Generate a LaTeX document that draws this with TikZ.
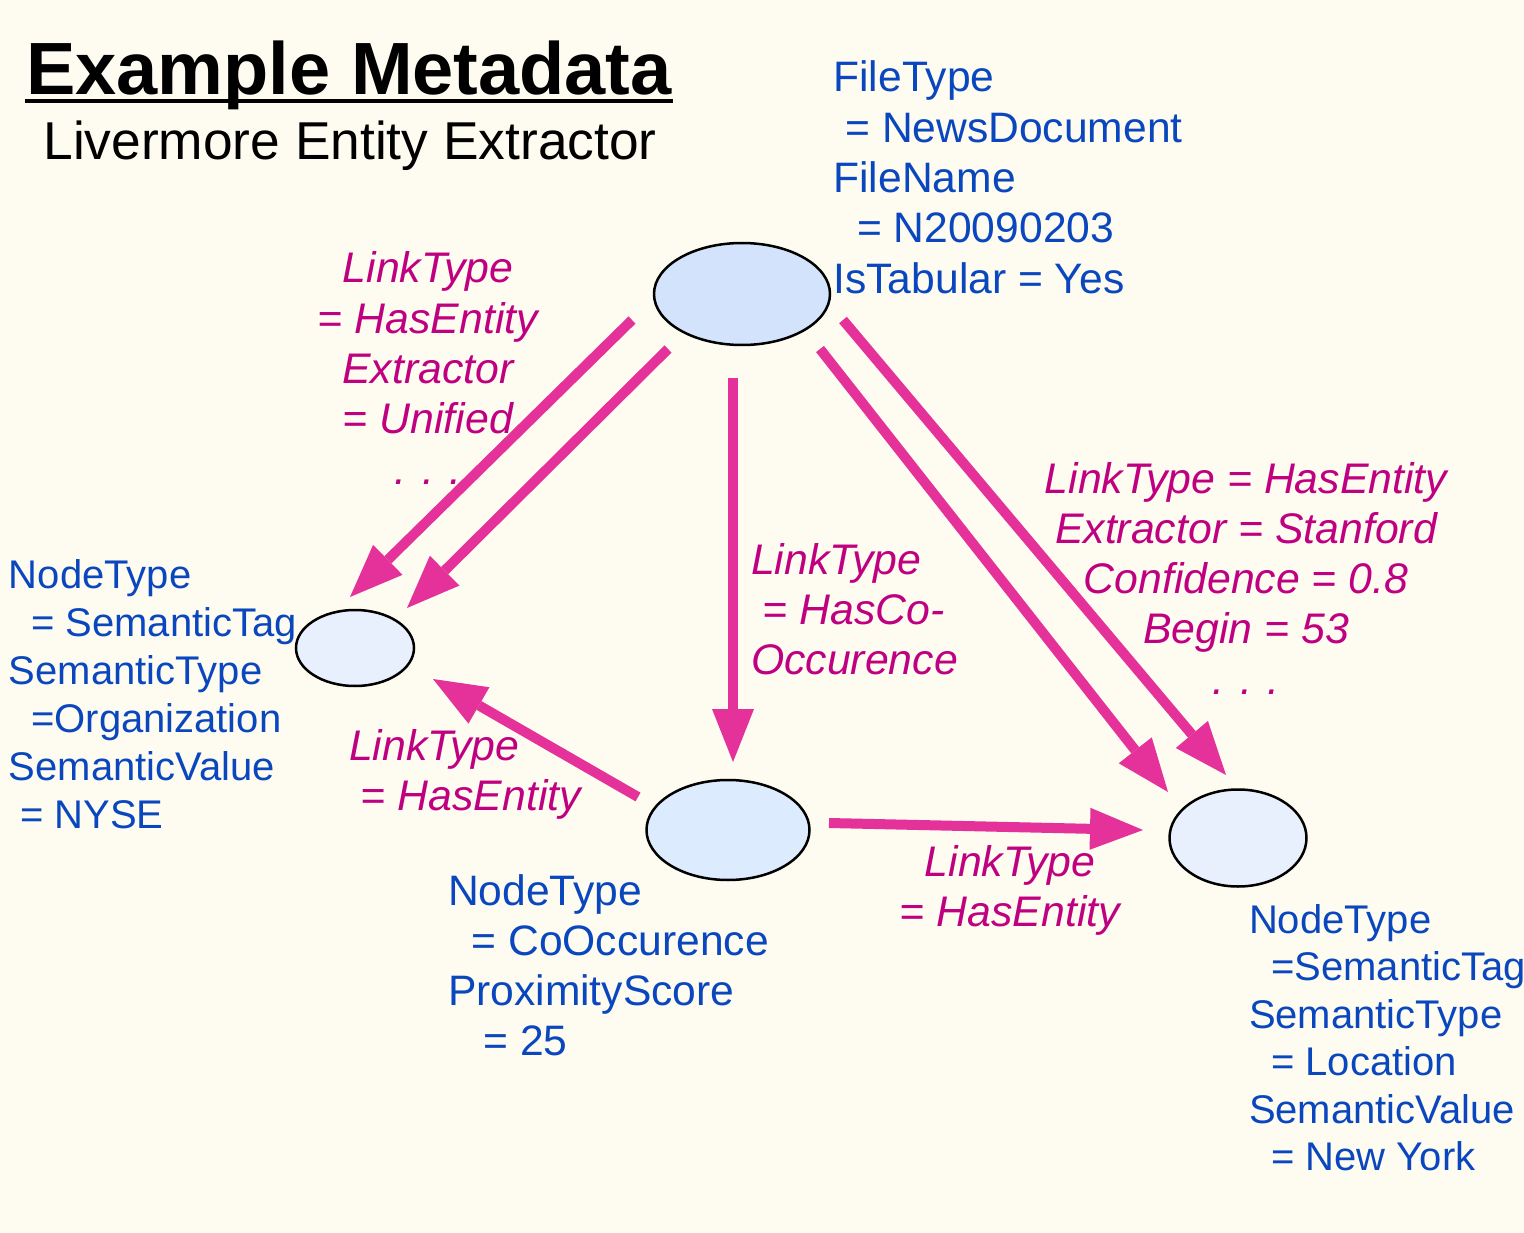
\documentclass[tikz,border=0pt]{standalone}
\usepackage{fontspec}
\setmainfont{Liberation Sans}
\usetikzlibrary{arrows.meta,shapes.geometric}
\definecolor{bgcol}{HTML}{FEFBF0}
\definecolor{infoblue}{HTML}{0A47BF}
\definecolor{linkmag}{HTML}{BF0080}
\definecolor{arrowpink}{HTML}{E5319A}
\definecolor{topfill}{HTML}{D3E3FB}
\definecolor{entfill}{HTML}{E8F0FD}
\definecolor{cofill}{HTML}{DDEBFE}
\newcommand\leftlines[1]{\vtop{\halign{##\hfil\cr#1\crcr}}}
\newcommand\centerlines[1]{\vtop{\halign{\hfil##\hfil\cr#1\crcr}}}
\begin{document}
\begin{tikzpicture}[x=1pt,y=-1pt,
  ent/.style={ellipse, draw=black, line width=2.5pt, inner sep=0pt},
  txt/.style={inner sep=0pt, outer sep=0pt},
  info/.style={txt, text=infoblue, font=\fontsize{42.6}{50.3}\selectfont},
  infosm/.style={txt, text=infoblue, font=\fontsize{40}{48}\selectfont},
  infosmr/.style={txt, text=infoblue, font=\fontsize{40}{47.5}\selectfont},
  linklab/.style={txt, text=linkmag, font=\fontsize{42.8}{50.3}\selectfont\itshape},
  link/.style={draw=arrowpink, line width=10pt, -{Triangle[length=53pt, width=42pt, line width=0pt]}}]
\fill[bgcol] (0,0) rectangle (1524,1233);
\useasboundingbox (0,0) rectangle (1524,1233);

% title
\node[txt, anchor=base, font=\fontsize{74}{80}\selectfont\bfseries] (title) at (349,95) {Example Metadata};
\coordinate (ulA) at (25,101);
\coordinate (ulB) at (673,101);
\draw[line width=4pt] (ulA) -- (ulB);
\node[txt, anchor=base, font=\fontsize{53.3}{60}\selectfont] (subtitle) at (350,160) {Livermore Entity Extractor};

% entity ellipses
\node[ent, fill=topfill, minimum width=176pt, minimum height=102pt] (doc) at (742,294) {};
\node[ent, fill=entfill, minimum width=118pt, minimum height=76pt] (org) at (355,648) {};
\node[ent, fill=cofill, minimum width=163pt, minimum height=100pt] (co) at (728,830) {};
\node[ent, fill=entfill, minimum width=137pt, minimum height=97pt] (loc) at (1238,838) {};

% attribute texts
\node[info, anchor=base west] (docinfo) at (833.5,92)
  {\leftlines{FileType\cr\ = NewsDocument\cr FileName\cr\ \ = N20090203\cr IsTabular = Yes}};
\node[infosm, anchor=base west] (orginfo) at (9,588)
  {\leftlines{NodeType\cr\ \ = SemanticTag\cr SemanticType\cr\ \ =Organization\cr SemanticValue\cr\ = NYSE}};
\node[info, anchor=base west] (coinfo) at (448,905)
  {\leftlines{NodeType\cr\ \ = CoOccurence\cr ProximityScore\cr\ \ \ = 25}};
\node[infosmr, anchor=base west] (locinfo) at (1249,933)
  {\leftlines{NodeType\cr\ \ =SemanticTag\cr SemanticType\cr\ \ = Location\cr SemanticValue\cr\ \ = New York}};

% link labels
\node[linklab, anchor=base] (lab1) at (428,283)
  {\centerlines{LinkType\cr = HasEntity\cr Extractor\cr = Unified\cr . . .}};
\node[linklab, anchor=base] (lab2) at (1246,493)
  {\centerlines{LinkType = HasEntity\cr Extractor = Stanford\cr Confidence = 0.8\cr Begin = 53\cr . . .}};
\node[linklab, anchor=base west] (lab3) at (751,574)
  {\leftlines{LinkType\cr\ = HasCo-\cr Occurence}};
\node[linklab, anchor=base west] (lab4) at (349,760)
  {\leftlines{LinkType\cr\ = HasEntity}};
\node[linklab, anchor=base] (lab5) at (1010,876)
  {\centerlines{LinkType\cr = HasEntity}};

% arrow ends
\coordinate (a1s) at (632,320);  \coordinate (a1e) at (350,597);
\coordinate (a2s) at (668,349);  \coordinate (a2e) at (407,608);
\coordinate (a3s) at (733,378);  \coordinate (a3e) at (733,762);
\coordinate (a4s) at (820,349);  \coordinate (a4e) at (1168,792);
\coordinate (a5s) at (843,320);  \coordinate (a5e) at (1226,775);
\coordinate (a6s) at (638,797);  \coordinate (a6e) at (433,679);
\coordinate (a7s) at (829,823);  \coordinate (a7e) at (1143,830);

\draw[link] (a1s) -- (a1e);
\draw[link] (a2s) -- (a2e);
\draw[link] (a3s) -- (a3e);
\draw[link] (a4s) -- (a4e);
\draw[link] (a5s) -- (a5e);
\draw[link] (a6s) -- (a6e);
\draw[link] (a7s) -- (a7e);
\end{tikzpicture}
\end{document}
